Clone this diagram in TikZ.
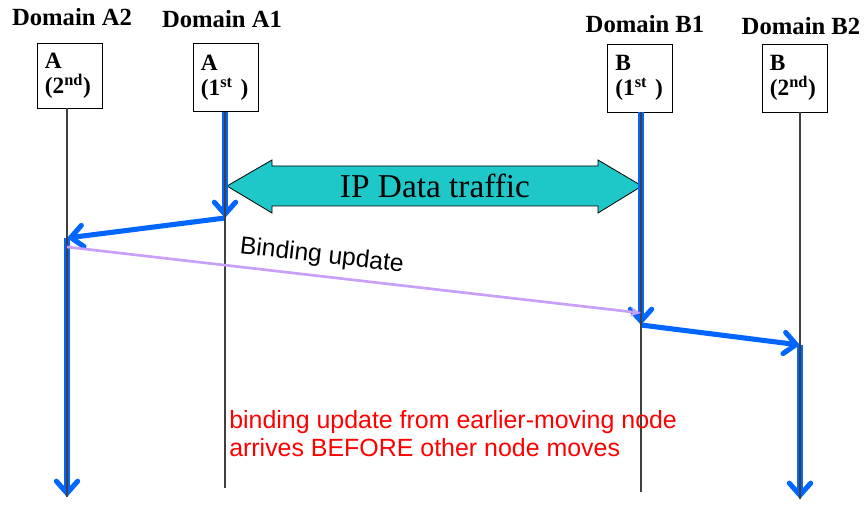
\documentclass[tikz,border=0pt]{standalone}
\usepackage{fontspec}
\setmainfont{Liberation Serif}
\setsansfont{Liberation Sans}
\usetikzlibrary{arrows.meta}
\definecolor{movecol}{RGB}{0,102,255}
\definecolor{bucol}{RGB}{200,160,250}
\definecolor{ipcol}{RGB}{30,200,200}

\begin{document}
\begin{tikzpicture}[x=0.75pt,y=-0.75pt,
  domainlabel/.style={inner sep=0pt,anchor=base,font=\fontsize{18.5}{20}\selectfont\bfseries},
  host/.style={draw,minimum width=49pt,minimum height=51pt,text width=37pt,inner xsep=6pt,
    align=left,font=\fontsize{17.5}{19}\selectfont\bfseries},
  life/.style={black!75,line width=0.8pt},
  movearrow/.style={draw=movecol,line width=3.8pt,
    -{Straight Barb[length=9pt,width=16pt,line cap=round]}}
]
    \useasboundingbox[fill=white] (0,0) rectangle (865,505);
    % domains and hosts
    \node[domainlabel] (da2) at (72,26) {Domain A2};
    \node[domainlabel] (da1) at (222,28) {Domain A1};
    \node[domainlabel] (db1) at (645,33) {Domain B1};
    \node[domainlabel] (db2) at (801,35) {Domain B2};
    \node[host,minimum height=48.5pt] (a2) at (69.5,75.5) {A\\(2\textsuperscript{nd})};
    \node[host] (a1) at (225.5,77.5) {A\\(1\textsuperscript{st} )};
    \node[host] (b1) at (640,78) {B\\(1\textsuperscript{st} )};
    \node[host] (b2) at (794.5,78) {B\\(2\textsuperscript{nd})};
    % lifelines
    \coordinate (a2m) at (67,238);  \coordinate (a2e) at (67,497);
    \coordinate (a1m) at (225,218); \coordinate (a1e) at (225,488);
    \coordinate (b1m) at (641,325); \coordinate (b1e) at (641,492);
    \coordinate (b2m) at (800,345); \coordinate (b2e) at (800,499);
    % IP data traffic
    \draw[fill=ipcol,line width=0.6pt] (227,186) -- (272,160) -- (272,166) -- (598,166) -- (598,160)
      -- (642,186) -- (598,213) -- (598,206) -- (272,206) -- (272,213) -- cycle;
    \node[font=\fontsize{25}{28}\selectfont] (ip) at (435,186) {IP Data traffic};
    % movements
    \draw[movearrow] (a1.south -| a1m) -- (a1m);
    \draw[movearrow] (a1m) -- (a2m);
    \draw[movearrow] (a2m) -- (a2e);
    \draw[movearrow] (b1.south -| b1m) -- (b1m);
    \draw[movearrow] (b1m) -- (b2m);
    \draw[movearrow] (b2m) -- (b2e);
    \draw[life] (a2.south -| a2e) -- (a2e);
    \draw[life] (a1.south -| a1e) -- (a1e);
    \draw[life] (b1.south -| b1e) -- (b1e);
    \draw[life] (b2.south -| b2e) -- (b2e);
    % binding update
    \coordinate (bus) at (67,247);
    \coordinate (bue) at (641,313);
    \draw[bucol,line width=2pt,-{Stealth[length=8pt,width=7pt]}] (bus) -- (bue)
      node[pos=0.44,sloped,above=2pt,text=black,font=\sffamily\fontsize{18.5}{20}\selectfont] (bulabel) {Binding update};
    \node[anchor=north west,align=left,inner sep=0pt,text=red,font=\sffamily\fontsize{18.7}{21}\selectfont] (note)
      at (229,410) {binding update from earlier-moving node\\arrives BEFORE other node moves};
\end{tikzpicture}
\end{document}
